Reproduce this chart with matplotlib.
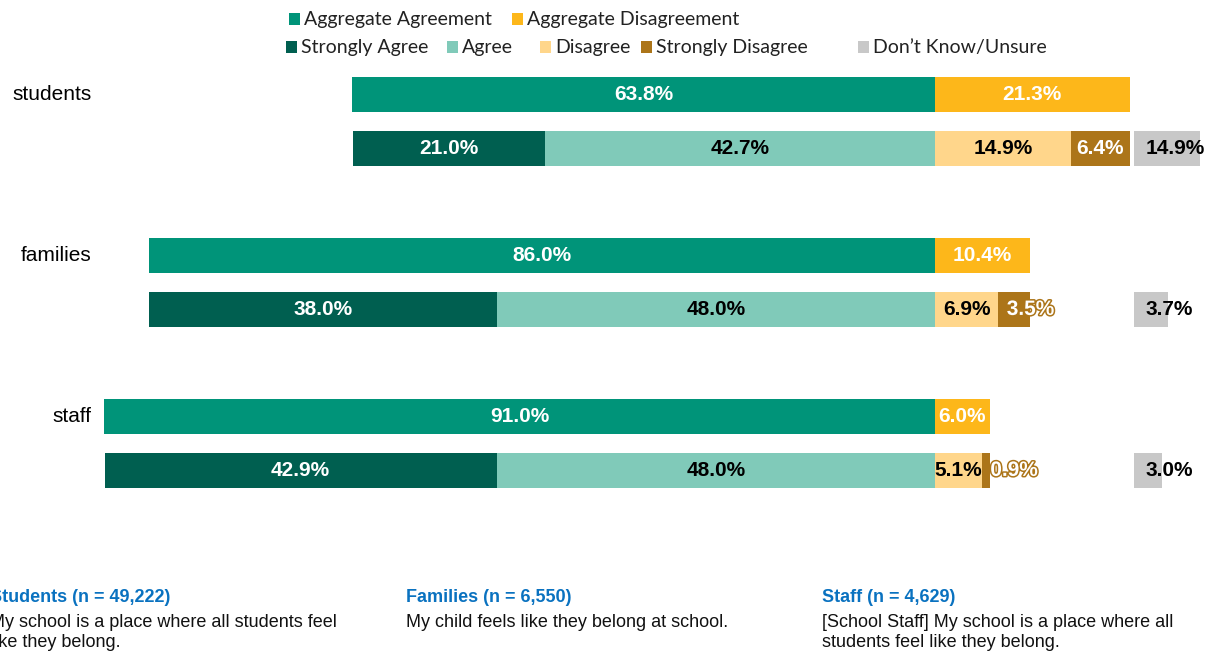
import matplotlib
matplotlib.use("Agg")
import matplotlib.pyplot as plt
import matplotlib.patheffects as pe
from matplotlib.patches import Rectangle

# survey groups and percentages
groups = ['students', 'families', 'staff']
agg_agree = [63.8, 86.0, 91.0]
agg_disagree = [21.3, 10.4, 6.0]
strongly_agree = [21.0, 38.0, 42.9]
agree = [42.7, 48.0, 48.0]
disagree = [14.9, 6.9, 5.1]
strongly_disagree = [6.4, 3.5, 0.9]
dont_know = [14.9, 3.7, 3.0]

notes_head = ['Students (n = 49,222)', 'Families (n = 6,550)', 'Staff (n = 4,629)']
notes_body = ['My school is a place where all students feel\nlike they belong.',
              'My child feels like they belong at school.',
              '[School Staff] My school is a place where all\nstudents feel like they belong.']

# colours
C_AGG_AG = '#009479'
C_AGG_DIS = '#FDB71A'
C_SA = '#005F50'
C_AG = '#80CAB9'
C_DIS = '#FFD68B'
C_SD = '#AC7519'
C_DK = '#C8C8C8'
C_NOTE = '#0A72C0'

W, H = 1213, 652
fig = plt.figure(figsize=(W / 100, H / 100), dpi=100)
ax = fig.add_axes([0, 0, 1200 / W, 1])
ax.set_xlim(-102.35, 29.0)
ax.set_ylim(3.295, -0.755)
ax.axis('off')

BAR_H = 0.218
OFF = 0.167
DK_START = 21.8   # don't know bars sit in their own column
BOLD = dict(family='Liberation Sans', weight='bold', fontsize=15, va='center')


def label(x, y, s, color, ha='center'):
    ax.text(x, y, s, color=color, ha=ha, **BOLD)


for i, g in enumerate(groups):
    ya = i - OFF
    yd = i + OFF

    # aggregate row
    ax.barh(ya, -agg_agree[i], height=BAR_H, color=C_AGG_AG)
    ax.barh(ya, agg_disagree[i], height=BAR_H, color=C_AGG_DIS)
    label(-agg_agree[i] / 2, ya, f'{agg_agree[i]:.1f}%', 'white')
    label(agg_disagree[i] / 2, ya, f'{agg_disagree[i]:.1f}%', 'white')

    # detailed row
    ax.barh(yd, -agree[i], height=BAR_H, color=C_AG)
    ax.barh(yd, -strongly_agree[i], left=-agree[i], height=BAR_H, color=C_SA)
    ax.barh(yd, disagree[i], height=BAR_H, color=C_DIS)
    ax.barh(yd, strongly_disagree[i], left=disagree[i], height=BAR_H, color=C_SD)
    ax.barh(yd, dont_know[i], left=DK_START, height=BAR_H, color=C_DK)

    label(-agree[i] - strongly_agree[i] / 2, yd, f'{strongly_agree[i]:.1f}%', 'white')
    label(-agree[i] / 2, yd, f'{agree[i]:.1f}%', 'black')
    label(disagree[i] / 2, yd, f'{disagree[i]:.1f}%', 'black')
    if strongly_disagree[i] >= 5:
        label(disagree[i] + strongly_disagree[i] / 2, yd, f'{strongly_disagree[i]:.1f}%', 'white')
    else:
        t = ax.text(disagree[i] + 0.95, yd, f'{strongly_disagree[i]:.1f}%', color='white',
                    ha='left', **BOLD)
        t.set_path_effects([pe.withStroke(linewidth=2.2, foreground=C_SD)])
    label(DK_START + 1.2, yd, f'{dont_know[i]:.1f}%', 'black', ha='left')

    ax.text(-92.3, ya, g, ha='right', va='center', fontsize=15,
            family='Liberation Sans', color='black')

# legend, drawn by hand so the rows line up like the original
LEG_FONT = dict(family='Lato', fontsize=14, va='center', color='#222222')
legend_rows = [
    (19, [(289, C_AGG_AG, 'Aggregate Agreement'), (512, C_AGG_DIS, 'Aggregate Disagreement')]),
    (47, [(286, C_SA, 'Strongly Agree'), (447, C_AG, 'Agree'), (540, C_DIS, 'Disagree'),
          (641, C_SD, 'Strongly Disagree'), (858, C_DK, 'Don\u2019t Know/Unsure')]),
]
SQ = 11
for ypix, items in legend_rows:
    for xpix, col, txt in items:
        fig.add_artist(Rectangle((xpix / W, 1 - (ypix + SQ / 2) / H), SQ / W, SQ / H,
                                 transform=fig.transFigure, color=col, lw=0))
        fig.text((xpix + SQ + 4) / W, 1 - ypix / H, txt, **LEG_FONT)

# question notes along the bottom
note_x = [-10, 406, 822]
for x, head, body in zip(note_x, notes_head, notes_body):
    fig.text(x / W, 1 - 597 / H, head, color=C_NOTE, fontsize=13, weight='bold',
             family='Liberation Sans', va='center')
    fig.text(x / W, 1 - 614 / H, body, color='#111111', fontsize=13,
             family='Liberation Sans', va='top', linespacing=1.2)

fig.savefig('out.png', dpi=100)
